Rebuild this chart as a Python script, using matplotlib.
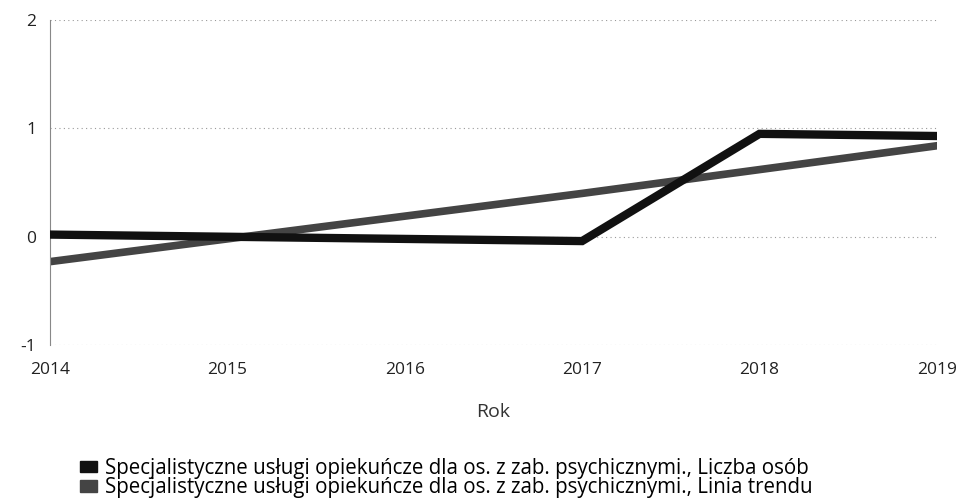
import matplotlib
matplotlib.use("Agg")
import matplotlib.pyplot as plt
from matplotlib.patches import Patch

plt.rcParams['font.family'] = ['Open Sans', 'DejaVu Sans']
plt.rcParams['axes.unicode_minus'] = False

years = [2014, 2015, 2016, 2017, 2018, 2019]
liczba_osob = [0.02, 0.0, -0.02, -0.04, 0.95, 0.93]
linia_trendu = [-0.23, -0.02, 0.19, 0.40, 0.62, 0.84]
series_names = [
    "Specjalistyczne usługi opiekuńcze dla os. z zab. psychicznymi., Liczba osób",
    "Specjalistyczne usługi opiekuńcze dla os. z zab. psychicznymi., Linia trendu",
]
colors = ['#111111', '#444444']

fig = plt.figure(figsize=(9.58, 5.03), dpi=100)
ax = fig.add_axes([0.052, 0.314, 0.926, 0.646])

ax.plot(years, liczba_osob, color=colors[0], lw=6, solid_joinstyle='miter', zorder=3)
ax.plot(years, linia_trendu, color=colors[1], lw=5.5, zorder=2)

ax.set_xlim(2014, 2019)
ax.set_ylim(-1, 2)
ax.set_yticks([-1, 0, 1, 2])
ax.set_xticks(years)
ax.grid(axis='y', color='#999999', lw=0.8, ls=(0, (1, 3)))
ax.grid(axis='x', visible=False)
for s in ['top', 'right', 'bottom']:
    ax.spines[s].set_visible(False)
ax.spines['left'].set_color('#888888')
ax.spines['left'].set_linestyle((0, (1, 1)))
ax.tick_params(length=0, labelsize=12.5, colors='#222222')
ax.tick_params(axis='x', pad=12)
ax.tick_params(axis='y', pad=10)
ax.set_xlabel('Rok', fontsize=14, color='#333333', labelpad=18)

handles = [Patch(facecolor=c, edgecolor=c) for c in colors]
fig.legend(handles, series_names, loc='upper left', bbox_to_anchor=(0.075, 0.106),
           frameon=False, fontsize=14.8, handlelength=0.8, handleheight=0.5,
           handletextpad=0.4, labelspacing=-0.08, borderaxespad=0)

fig.savefig('out.png', dpi=100)
